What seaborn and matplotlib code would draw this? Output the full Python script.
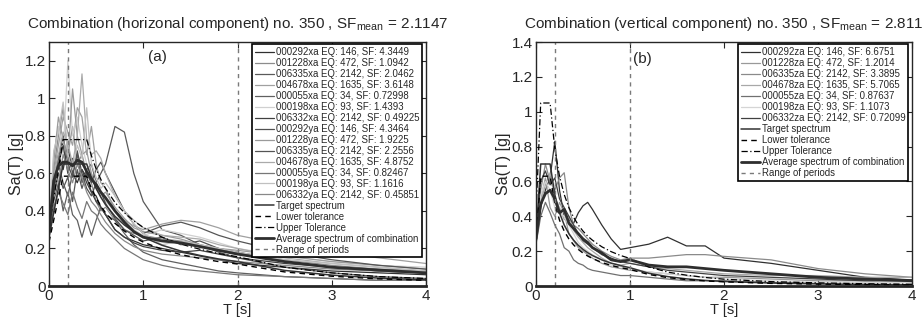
import numpy as np
import pandas as pd
import matplotlib
matplotlib.use("Agg")
import matplotlib.pyplot as plt
import seaborn as sns
from matplotlib.ticker import FormatStrFormatter

# ---------------- data ----------------
periods = [0, 0.05, 0.1, 0.15, 0.2, 0.25, 0.3, 0.35, 0.4, 0.45, 0.5, 0.55, 0.6,
           0.7, 0.8, 0.9, 1.0, 1.2, 1.4, 1.6, 1.8, 2.0, 2.5, 3.0, 3.5, 4.0]

labels_a = ["000292xa EQ: 146, SF: 4.3449", "001228xa EQ: 472, SF: 1.0942",
            "006335xa EQ: 2142, SF: 2.0462", "004678xa EQ: 1635, SF: 3.6148",
            "000055xa EQ: 34, SF: 0.72998", "000198xa EQ: 93, SF: 1.4393",
            "006332xa EQ: 2142, SF: 0.49225", "000292ya EQ: 146, SF: 4.3464",
            "001228ya EQ: 472, SF: 1.9225", "006335ya EQ: 2142, SF: 2.2556",
            "004678ya EQ: 1635, SF: 4.8752", "000055ya EQ: 34, SF: 0.82467",
            "000198ya EQ: 93, SF: 1.1616", "006332ya EQ: 2142, SF: 0.45851"]
colors_a = ["#303030", "#8c8c8c", "#5a5a5a", "#a0a0a0", "#606060", "#d0d0d0", "#404040",
            "#505050", "#9a9a9a", "#555555", "#aaaaaa", "#777777", "#c0c0c0", "#888888"]

rec_a1 = [0.30, 0.55, 0.70, 0.62, 0.75, 0.60, 0.55, 0.62, 0.58, 0.50, 0.48, 0.42, 0.38, 0.30, 0.26, 0.24, 0.22, 0.20, 0.18, 0.16, 0.14, 0.12, 0.10, 0.08, 0.07, 0.06]
rec_a2 = [0.28, 0.62, 0.80, 0.95, 0.70, 0.85, 0.65, 0.70, 0.60, 0.55, 0.45, 0.40, 0.42, 0.35, 0.30, 0.28, 0.27, 0.25, 0.24, 0.22, 0.20, 0.18, 0.14, 0.11, 0.09, 0.08]
rec_a3 = [0.33, 0.50, 0.65, 0.55, 0.48, 0.60, 0.70, 0.55, 0.62, 0.65, 0.55, 0.60, 0.65, 0.85, 0.82, 0.60, 0.45, 0.30, 0.27, 0.22, 0.18, 0.15, 0.10, 0.07, 0.05, 0.04]
rec_a4 = [0.27, 0.60, 0.75, 0.90, 0.82, 0.75, 0.95, 0.90, 0.70, 0.85, 0.65, 0.55, 0.52, 0.40, 0.35, 0.32, 0.30, 0.33, 0.35, 0.34, 0.31, 0.27, 0.22, 0.18, 0.15, 0.12]
rec_a5 = [0.26, 0.45, 0.55, 0.40, 0.50, 0.38, 0.35, 0.26, 0.35, 0.27, 0.35, 0.42, 0.38, 0.35, 0.28, 0.22, 0.18, 0.14, 0.12, 0.10, 0.08, 0.07, 0.05, 0.04, 0.03, 0.03]
rec_a6 = [0.30, 0.70, 0.85, 0.70, 1.20, 0.80, 0.90, 0.75, 0.65, 0.60, 0.55, 0.50, 0.45, 0.40, 0.34, 0.30, 0.27, 0.30, 0.28, 0.26, 0.23, 0.20, 0.16, 0.13, 0.11, 0.10]
rec_a7 = [0.29, 0.58, 0.65, 0.75, 0.60, 0.68, 0.58, 0.62, 0.55, 0.50, 0.45, 0.42, 0.38, 0.30, 0.26, 0.23, 0.21, 0.19, 0.18, 0.19, 0.17, 0.15, 0.12, 0.10, 0.08, 0.07]
rec_a8 = [0.31, 0.52, 0.68, 0.80, 0.65, 0.58, 0.72, 0.60, 0.52, 0.48, 0.55, 0.50, 0.44, 0.36, 0.30, 0.27, 0.24, 0.26, 0.22, 0.24, 0.20, 0.18, 0.13, 0.10, 0.08, 0.07]
rec_a9 = [0.27, 0.66, 0.90, 0.78, 0.68, 1.05, 0.80, 0.70, 0.72, 0.60, 0.52, 0.48, 0.50, 0.42, 0.36, 0.31, 0.29, 0.27, 0.25, 0.22, 0.20, 0.19, 0.16, 0.13, 0.11, 0.09]
rec_a10 = [0.34, 0.48, 0.60, 0.52, 0.58, 0.45, 0.62, 0.52, 0.60, 0.55, 0.62, 0.66, 0.60, 0.50, 0.40, 0.33, 0.28, 0.32, 0.34, 0.31, 0.27, 0.24, 0.18, 0.14, 0.11, 0.09]
rec_a11 = [0.26, 0.58, 0.70, 0.82, 0.76, 0.65, 0.80, 1.13, 0.78, 0.70, 0.72, 0.68, 0.60, 0.48, 0.40, 0.35, 0.31, 0.27, 0.26, 0.25, 0.22, 0.20, 0.15, 0.12, 0.10, 0.08]
rec_a12 = [0.27, 0.42, 0.50, 0.44, 0.38, 0.50, 0.42, 0.36, 0.45, 0.40, 0.38, 0.33, 0.30, 0.25, 0.20, 0.17, 0.14, 0.11, 0.09, 0.08, 0.07, 0.06, 0.05, 0.04, 0.03, 0.03]
rec_a13 = [0.29, 0.72, 0.82, 0.98, 0.70, 0.62, 0.75, 0.68, 0.95, 0.65, 0.58, 0.52, 0.55, 0.48, 0.40, 0.33, 0.28, 0.22, 0.24, 0.22, 0.20, 0.18, 0.14, 0.12, 0.10, 0.08]
rec_a14 = [0.30, 0.60, 0.55, 0.70, 0.62, 0.55, 0.65, 0.58, 0.50, 0.45, 0.42, 0.38, 0.34, 0.28, 0.24, 0.21, 0.19, 0.17, 0.16, 0.15, 0.14, 0.13, 0.11, 0.09, 0.08, 0.07]
records_a = [rec_a1, rec_a2, rec_a3, rec_a4, rec_a5, rec_a6, rec_a7,
             rec_a8, rec_a9, rec_a10, rec_a11, rec_a12, rec_a13, rec_a14]

target_a = [0.26, 0.39, 0.52, 0.65, 0.65, 0.65, 0.65, 0.65, 0.65, 0.578, 0.52, 0.473, 0.433, 0.371, 0.325, 0.289, 0.26, 0.217, 0.186, 0.163, 0.144, 0.13, 0.083, 0.058, 0.042, 0.033]
lower_a = [0.234, 0.351, 0.468, 0.585, 0.585, 0.585, 0.585, 0.585, 0.585, 0.52, 0.468, 0.426, 0.39, 0.334, 0.293, 0.26, 0.234, 0.195, 0.167, 0.147, 0.13, 0.117, 0.075, 0.052, 0.038, 0.03]
upper_a = [0.312, 0.468, 0.624, 0.78, 0.78, 0.78, 0.78, 0.78, 0.78, 0.694, 0.624, 0.568, 0.52, 0.445, 0.39, 0.347, 0.312, 0.26, 0.223, 0.196, 0.173, 0.156, 0.1, 0.07, 0.05, 0.04]
average_a = [0.29, 0.56, 0.64, 0.66, 0.66, 0.64, 0.67, 0.66, 0.61, 0.57, 0.54, 0.50, 0.47, 0.40, 0.34, 0.29, 0.26, 0.24, 0.23, 0.21, 0.19, 0.17, 0.13, 0.10, 0.085, 0.07]
range_a = [0.2, 2.0]

labels_b = ["000292za EQ: 146, SF: 6.6751", "001228za EQ: 472, SF: 1.2014",
            "006335za EQ: 2142, SF: 3.3895", "004678za EQ: 1635, SF: 5.7065",
            "000055za EQ: 34, SF: 0.87637", "000198za EQ: 93, SF: 1.1073",
            "006332za EQ: 2142, SF: 0.72099"]
colors_b = ["#303030", "#999999", "#8a8a8a", "#a8a8a8", "#707070", "#d5d5d5", "#404040"]

rec_b1 = [0.25, 0.45, 0.55, 0.62, 0.83, 0.55, 0.40, 0.38, 0.36, 0.42, 0.46, 0.48, 0.44, 0.35, 0.27, 0.21, 0.22, 0.24, 0.28, 0.23, 0.23, 0.16, 0.13, 0.09, 0.05, 0.035]
rec_b2 = [0.28, 0.50, 0.62, 0.45, 0.40, 0.48, 0.42, 0.30, 0.26, 0.22, 0.20, 0.18, 0.16, 0.13, 0.11, 0.10, 0.09, 0.08, 0.07, 0.06, 0.05, 0.05, 0.04, 0.03, 0.03, 0.03]
rec_b3 = [0.30, 0.55, 0.70, 0.60, 0.55, 0.62, 0.65, 0.45, 0.35, 0.33, 0.30, 0.27, 0.24, 0.20, 0.17, 0.15, 0.16, 0.16, 0.17, 0.18, 0.18, 0.17, 0.15, 0.10, 0.07, 0.05]
rec_b4 = [0.26, 0.48, 0.58, 0.65, 0.50, 0.45, 0.38, 0.40, 0.32, 0.28, 0.25, 0.22, 0.20, 0.16, 0.13, 0.12, 0.13, 0.11, 0.10, 0.09, 0.08, 0.07, 0.06, 0.06, 0.05, 0.05]
rec_b5 = [0.24, 0.40, 0.48, 0.42, 0.35, 0.30, 0.22, 0.20, 0.15, 0.13, 0.12, 0.10, 0.09, 0.08, 0.07, 0.06, 0.06, 0.05, 0.04, 0.03, 0.03, 0.03, 0.02, 0.02, 0.02, 0.02]
rec_b6 = [0.27, 0.52, 0.60, 0.55, 0.45, 0.42, 0.40, 0.35, 0.30, 0.25, 0.22, 0.20, 0.18, 0.15, 0.12, 0.11, 0.10, 0.08, 0.07, 0.06, 0.05, 0.04, 0.03, 0.02, 0.02, 0.02]
rec_b7 = [0.29, 0.60, 0.66, 0.58, 0.62, 0.50, 0.45, 0.40, 0.35, 0.30, 0.26, 0.24, 0.22, 0.18, 0.16, 0.14, 0.13, 0.11, 0.09, 0.08, 0.07, 0.06, 0.05, 0.04, 0.03, 0.03]
records_b = [rec_b1, rec_b2, rec_b3, rec_b4, rec_b5, rec_b6, rec_b7]

target_b = [0.28, 0.70, 0.70, 0.70, 0.525, 0.42, 0.35, 0.30, 0.263, 0.233, 0.21, 0.191, 0.175, 0.15, 0.131, 0.117, 0.105, 0.073, 0.054, 0.041, 0.032, 0.026, 0.017, 0.012, 0.009, 0.007]
lower_b = [0.252, 0.63, 0.63, 0.63, 0.473, 0.378, 0.315, 0.27, 0.236, 0.21, 0.189, 0.172, 0.158, 0.135, 0.118, 0.105, 0.095, 0.066, 0.048, 0.037, 0.029, 0.024, 0.015, 0.011, 0.008, 0.006]
upper_b = [0.42, 1.05, 1.05, 1.05, 0.788, 0.63, 0.525, 0.45, 0.394, 0.35, 0.315, 0.286, 0.263, 0.225, 0.197, 0.175, 0.158, 0.109, 0.08, 0.062, 0.049, 0.039, 0.025, 0.018, 0.013, 0.01]
average_b = [0.27, 0.47, 0.53, 0.55, 0.50, 0.42, 0.44, 0.36, 0.33, 0.30, 0.27, 0.25, 0.22, 0.19, 0.15, 0.14, 0.15, 0.12, 0.11, 0.11, 0.10, 0.09, 0.07, 0.05, 0.04, 0.03]
range_b = [0.2, 1.0]

titles = ["Combination (horizonal component) no. 350 , SF$_{\\mathregular{mean}}$ = 2.1147",
          "Combination (vertical component) no. 350 , SF$_{\\mathregular{mean}}$ = 2.811"]

# ---------------- style ----------------
sns.set_style("ticks")
plt.rcParams["font.family"] = ["Liberation Sans", "DejaVu Sans"]
plt.rcParams["mathtext.fontset"] = "custom"
plt.rcParams["mathtext.rm"] = "Liberation Sans"
plt.rcParams["xtick.direction"] = "in"
plt.rcParams["ytick.direction"] = "in"

fig = plt.figure(figsize=(9.23, 3.2), dpi=100)
ax_a = fig.add_axes([49 / 923, 34 / 320, 377 / 923, 244 / 320])
ax_b = fig.add_axes([536 / 923, 34 / 320, 376 / 923, 244 / 320])


def draw(ax, records, labels, colors, target, lower, upper, average, rng, ymax, yticks, tag, tagpos, title):
    for vals, lab, col in zip(records, labels, colors):
        sns.lineplot(x=periods, y=vals, ax=ax, color=col, lw=0.9, label=lab)
    sns.lineplot(x=periods, y=target, ax=ax, color="#333333", lw=1.1, label="Target spectrum")
    sns.lineplot(x=periods, y=lower, ax=ax, color="black", lw=1.0, label="Lower tolerance")
    ax.lines[-1].set_linestyle((0, (4, 3)))
    sns.lineplot(x=periods, y=upper, ax=ax, color="black", lw=0.9, label="Upper Tolerance")
    ax.lines[-1].set_linestyle((0, (5, 2, 1, 2)))
    sns.lineplot(x=periods, y=average, ax=ax, color="#2e2e2e", lw=2.0, label="Average spectrum of combination")
    for i, t in enumerate(rng):
        ax.axvline(t, color="#7a7a7a", lw=1.0, linestyle=(0, (3, 3)),
                   label="Range of periods" if i == 0 else None)

    ax.set_xlim(0, 4)
    ax.set_ylim(0, ymax)
    ax.set_xticks([0, 1, 2, 3, 4])
    ax.set_yticks(yticks)
    ax.xaxis.set_major_formatter(FormatStrFormatter("%g"))
    ax.yaxis.set_major_formatter(FormatStrFormatter("%g"))
    ax.tick_params(labelsize=11, top=True, right=True, length=4, width=0.8)
    ax.tick_params(axis="x", pad=2.5)
    ax.tick_params(axis="y", pad=2.5)
    for s in ax.spines.values():
        s.set_linewidth(1.0)
        s.set_visible(True)
    ax.spines["bottom"].set_linewidth(2.0)
    ax.set_xlabel("T [s]", fontsize=10.5, labelpad=0)
    ax.set_ylabel("Sa(T) [g]", fontsize=11.5, labelpad=0)
    ax.set_title(title, fontsize=11, pad=10)
    ax.text(tagpos[0], tagpos[1], tag, fontsize=11, ha="center", va="center")

    leg = ax.legend(loc="upper right", bbox_to_anchor=(0.99, 0.99), borderaxespad=0,
                    fontsize=6.9, labelspacing=0.1, handlelength=2.0, handletextpad=0.15,
                    borderpad=0.3, frameon=True, fancybox=False, framealpha=1)
    leg.get_frame().set_edgecolor("black")
    leg.get_frame().set_linewidth(1.2)


draw(ax_a, records_a, labels_a, colors_a, target_a, lower_a, upper_a, average_a, range_a,
     1.3, [0, 0.2, 0.4, 0.6, 0.8, 1.0, 1.2], "(a)", (1.15, 1.22), titles[0])
draw(ax_b, records_b, labels_b, colors_b, target_b, lower_b, upper_b, average_b, range_b,
     1.4, [0, 0.2, 0.4, 0.6, 0.8, 1.0, 1.2, 1.4], "(b)", (1.13, 1.30), titles[1])

fig.savefig("out.png", dpi=100)
